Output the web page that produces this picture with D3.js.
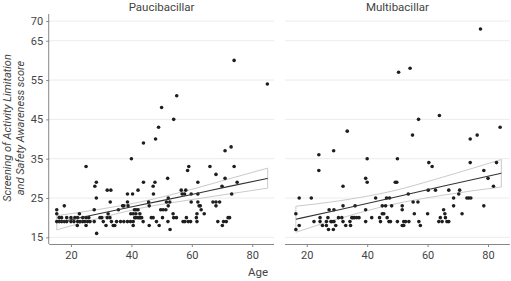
<!DOCTYPE html>
<html><head><meta charset="utf-8">
<script src="https://cdn.jsdelivr.net/npm/d3@7"></script>
<style>
body{margin:0;background:#fff;}
text{font-family:Roboto,"Noto Sans",sans-serif;fill:#444;}
</style></head><body>
<svg id="c" width="511" height="281"></svg>
<script>
const panels = ["Paucibacillar", "Multibacillar"];
const xTicks = [20, 40, 60, 80];
const yTicks = [15, 25, 35, 45, 55, 65, 70];

// Paucibacillar: [age, score]
const pauciPoints = [
[74,60],[85,54],[55,51],[50,48],[54,45],[49,43],[48,40],[44,39],[73,38],[71,37],[40,35],[25,33],[74,33],[66,33],[59,33],[58.6,32],[68,31],[71,30],[52,30],[75,29],[28.4,29],[27.9,28],[47.8,29],[47.2,28],[44,29],[62,29],[70,28],[32,27],[33.2,27],[42.2,27],[56.5,27],[58,27],[38.7,26],[40.4,26],[47.3,26],[56.8,26],[57.6,26],[59.8,26],[62,26],[73.2,26],[28.4,25],[52.2,25],[33,24],[38.7,24],[45.7,24],[51.6,24],[52.7,24],[59.8,24],[62,24],[67,24],[68,24],[69.2,24],[45.9,23],[37.5,23],[38.9,23],[62.4,23],[62.8,23],[68,23],[63.1,22],[64.1,21],
[15.3,22],[15.3,21],[17.8,23],[15.3,19],[16.1,19],[16.9,19],[17.8,19],[18.6,19],[20,19],[21,19],[22.2,19],[23,19],[23.9,19],[24.6,19],[25.5,19],[26.3,19],[16.1,20],[16.9,20],[18.6,20],[20,20],[21.3,20],[22.2,20],[23.9,20],[25,20],[25.9,20],[22.8,21],[22.1,18],[25,18],[27.7,22],[28.5,16],[27.7,19],
[29.6,20],[30.2,20],[30.7,19],[31.6,18],[32,20],[32.3,21],[32.9,20],[33.4,19],[34,18],[34.5,18],[35.1,19],[35.7,22],[36.4,19],[37.1,23],[37.5,19],[38.7,19],[39.7,19],[40.6,18],[41.1,20],[41.5,20],[42.2,20],[42.6,20],[43,20],[43.4,20],[43.9,19],[40.6,19],[41,22],[41.5,22],[42.2,22],[41.5,21],[40.6,21],[39.8,21],[42.8,21],[45.9,18],[46.6,20],[47.2,20],[48.3,19],[49.2,18],[50.3,20],[50.5,22],[51.4,22],[52.2,23],[52.1,19],[49.7,22],[54,20],[54.9,20],[53.8,21],[52.8,17],[58.2,20],[58.8,19],[59.6,19],[61.7,21],[61.5,20],[61.7,19],[57.1,19],[57.7,19],[68.6,19],[70.1,18],[70.5,19],[71.4,19],[72,20],[72.5,20]
];

// Multibacillar: [age, score]
const multiPoints = [
[77.5,68],[50.4,57],[54.2,58],[57,45],[63.9,46],[33.4,42],[55,41],[74.1,40],[76.4,41],[84,43],[28.9,37],[24,36],
[24,32],[40,35],[50,35],[60.4,34],[61.5,33],[74.1,34],[82.8,34],[39.5,30],[40,29],[32,28],[49.3,29],[49.8,29],[78.6,32],[80,30],[81.8,28],[78.6,23],
[16.4,21],[16.4,17],[17.5,18],[17.5,25],[21.5,25],
[22.4,19],[24.4,20],[24.4,19],[25.2,18],[26.5,18],[26.5,19],[27,20],[27.4,22],[27.2,17],[28.8,17],[28,19],[28.3,19],[29,19],[29,22],[29.6,18],[30.5,20],[31.6,20],[32,19],[32.9,18],[32,23],[34.3,19],[34.5,18],[34.9,20],[35.3,20],[35.7,20],[36,23],[36.5,20],[37.3,20],[39.5,22],[39.5,19],[41.5,20],[42.8,25],[44.1,20],[44.4,19],[45,23],[45,21],[45.5,21],[46.1,23],[46.4,25],[46.6,20],[47.2,19],[47.4,25],[48.1,23],[47.7,19],[50,19],[51.6,23],[51.6,22],[51.6,18],[52.1,18],[52.1,19],[52.7,19],[53.6,26],[53.8,19],[55.2,24],[55.6,21],[56.8,24],[57.1,19],[57.6,18],[60,21],[60.2,27],[62.6,27],[63.7,19],[64.2,20],[64.8,19],[65.3,22],[65.7,21],[65.9,20],[66.4,19],[67,19],[67,27],[68.6,25],[68.6,23],[70.6,27],[70.3,26],[71.4,21],[73,25],[73.6,25],[74.3,25]
];

// fitted line and 95% band
const pauciFitAges = [15.3, 30, 43, 60, 72, 85.1];
const pauciFit     = [18.7, 21.1, 23.2, 25.9, 27.9, 30.0];
const pauciLo      = [16.9, 20.0, 22.4, 24.6, 26.0, 27.5];
const pauciHi      = [20.5, 22.2, 24.0, 27.2, 29.8, 32.6];
const multiFitAges = [16.4, 30, 48, 65, 84.4];
const multiFit     = [19.6, 21.9, 25.0, 28.0, 31.3];
const multiLo      = [16.3, 19.6, 23.3, 25.7, 27.8];
const multiHi      = [22.9, 24.2, 26.7, 30.3, 34.8];

const svg = d3.select("#c");
const yS = d3.scaleLinear().domain([13.3, 71.8]).range([244, 14]);
const panelRanges = [[49.2, 274], [285, 509.8]];
const datasets = [
  {pts: pauciPoints, ages: pauciFitAges, fit: pauciFit, lo: pauciLo, hi: pauciHi},
  {pts: multiPoints, ages: multiFitAges, fit: multiFit, lo: multiLo, hi: multiHi}
];

panels.forEach((name, i) => {
  const xS = d3.scaleLinear().domain([12.8, 87.2]).range(panelRanges[i]);
  const g = svg.append("g");
  const [x0, x1] = panelRanges[i];
  g.selectAll(".grid").data(yTicks).join("line")
    .attr("x1", x0).attr("x2", x1)
    .attr("y1", d => yS(d)).attr("y2", d => yS(d))
    .attr("stroke", "#ececec").attr("stroke-width", 1);
  g.append("text").attr("x", (x0 + x1) / 2).attr("y", 11)
    .attr("text-anchor", "middle").attr("font-size", 11.5).text(name);
  const ds = datasets[i];
  const band = ds.ages.map((a, k) => [a, ds.lo[k], ds.hi[k]]);
  const area = d3.area().x(d => xS(d[0])).y0(d => yS(d[1])).y1(d => yS(d[2])).curve(d3.curveMonotoneX);
  g.append("path").datum(band).attr("d", area)
    .attr("fill", "#ffffff").attr("fill-opacity", 0.7)
    .attr("stroke", "#c4c4c4").attr("stroke-width", 0.9);
  g.selectAll(".pt").data(ds.pts).join("circle")
    .attr("cx", d => xS(d[0])).attr("cy", d => yS(d[1])).attr("r", 1.8)
    .attr("fill", "#1e1e1e");
  const line = d3.line().x(d => xS(d[0])).y(d => yS(d[1])).curve(d3.curveMonotoneX);
  g.append("path").datum(ds.ages.map((a, k) => [a, ds.fit[k]])).attr("d", line)
    .attr("fill", "none").attr("stroke", "#333").attr("stroke-width", 1.1);
  const xa = g.append("g").attr("transform", "translate(0,244)")
    .call(d3.axisBottom(xS).tickValues(xTicks).tickSize(3).tickPadding(4));
  xa.select(".domain").attr("stroke", "#888").attr("d", `M${x0},0.5H${x1}`);
  xa.selectAll(".tick line").attr("stroke", "#888");
  xa.selectAll("text").attr("font-size", 11).attr("fill", "#555")
    .style("font-family", "Roboto,'Noto Sans',sans-serif");
  if (i === 0) {
    const ya = g.append("g").attr("transform", `translate(${x0},0)`)
      .call(d3.axisLeft(yS).tickValues(yTicks).tickSize(3).tickPadding(3));
    ya.select(".domain").attr("stroke", "#888").attr("d", "M-0.5,14V244");
    ya.selectAll(".tick line").attr("stroke", "#888");
    ya.selectAll("text").attr("font-size", 11).attr("fill", "#555")
      .style("font-family", "Roboto,'Noto Sans',sans-serif");
  }
});

svg.append("text").attr("x", 258).attr("y", 276).attr("text-anchor", "middle")
  .attr("font-size", 11.5).text("Age");
const yt = svg.append("text").attr("transform", "translate(0,128) rotate(-90)")
  .attr("text-anchor", "middle").attr("font-size", 11).attr("font-style", "italic");
yt.append("tspan").attr("x", 0).attr("y", 11).text("Screening of Activity Limitation");
yt.append("tspan").attr("x", 0).attr("y", 24).text("and Safety Awareness score");
</script></body></html>
